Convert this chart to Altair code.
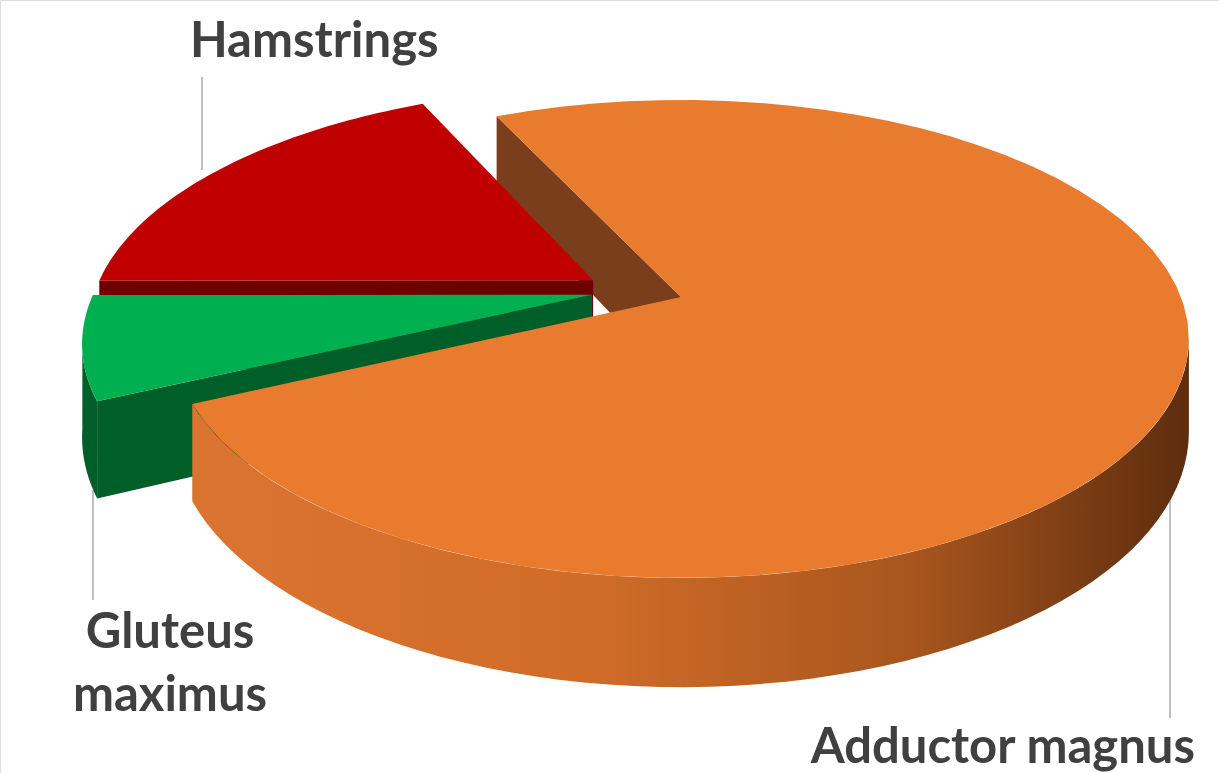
import math
import altair as alt
import pandas as pd

# ---- data ----
categories = ["Adductor magnus", "Gluteus maximus", "Hamstrings"]
shares = [75, 7, 18]

# ---- styles / layout ----
START_DEG = -25.3          # angle (clockwise from 12 o'clock) where the first slice starts
TOP_COLOR = {"Adductor magnus": "#E97B2F", "Gluteus maximus": "#00B050", "Hamstrings": "#C00000"}
WALL_COLOR = {"Adductor magnus": "#7A3E1C", "Gluteus maximus": "#005F29", "Hamstrings": "#6E0000"}
RIM_COLOR = {
    "Adductor magnus": alt.Gradient(
        gradient="linear",
        stops=[alt.GradientStop(color="#DB7430", offset=0),
               alt.GradientStop(color="#D06C28", offset=0.4),
               alt.GradientStop(color="#A8561E", offset=0.72),
               alt.GradientStop(color="#5E2D0E", offset=1)],
        x1=0, x2=1, y1=0, y2=0),
    "Gluteus maximus": "#005F29",
    "Hamstrings": "#7A0000",
}
EXPLODE = {"Adductor magnus": (0.0, 0.0), "Gluteus maximus": (-0.178, -0.01), "Hamstrings": (-0.178, -0.073)}

W, H = 1219, 773
AX, AY = 681, 297      # projected pie centre
A, B = 500, 231.6      # projected radii
K = 0.1757             # perspective factor
D = 90                 # thickness
N = 60                 # arc resolution
VIS0 = math.degrees(math.acos(-K))
VIS1 = 360 - VIS0

xs = alt.Scale(domain=[0, W], nice=False, zero=False)
ys = alt.Scale(domain=[0, H], nice=False, zero=False, reverse=True)

df = pd.DataFrame({"muscle": categories, "share": shares, "idx": list(range(len(categories)))})

eu_expr = " : ".join([f"datum.muscle == '{c}' ? {EXPLODE[c][0]}" for c in categories]) + " : 0"
ev_expr = " : ".join([f"datum.muscle == '{c}' ? {EXPLODE[c][1]}" for c in categories]) + " : 0"

base = (
    alt.Chart(df)
    .transform_joinaggregate(total="sum(share)")
    .transform_window(cum="sum(share)", sort=[alt.SortField("idx")], frame=[None, 0])
    .transform_calculate(t0=f"{START_DEG} + 360*(datum.cum - datum.share)/datum.total")
    .transform_calculate(t1=f"{START_DEG} + 360*datum.cum/datum.total")
    .transform_calculate(eu=eu_expr)
    .transform_calculate(ev=ev_expr)
)


def project(ch, extra_y="0"):
    return (
        ch.transform_calculate(s=f"1/(1 - {K}*datum.pv)")
        .transform_calculate(px=f"{AX} + {A}*datum.pu*datum.s")
        .transform_calculate(py=f"{AY} + {B}*datum.pv*datum.s + ({extra_y})*datum.s")
    )


def enc(ch):
    return ch.encode(
        x=alt.X("px:Q", scale=xs, axis=None),
        y=alt.Y("py:Q", scale=ys, axis=None),
        order=alt.Order("k:Q"),
    )


def top_layer(c):
    ch = (
        base.transform_filter(alt.datum.muscle == c)
        .transform_calculate(k=f"sequence(-1, {N + 1})")
        .transform_flatten(["k"])
        .transform_calculate(th=f"(datum.t0 + (datum.t1 - datum.t0)*max(datum.k, 0)/{N})*PI/180")
        .transform_calculate(pu="(datum.k < 0 ? 0 : sin(datum.th)) + datum.eu")
        .transform_calculate(pv="(datum.k < 0 ? 0 : -cos(datum.th)) + datum.ev")
    )
    ch = project(ch)
    return enc(ch.mark_line(filled=True, color=TOP_COLOR[c], strokeWidth=0))


def rim_layer(c):
    ch = (
        base.transform_filter(alt.datum.muscle == c)
        .transform_calculate(r0=f"max(datum.t0, {VIS0})")
        .transform_calculate(r1=f"min(datum.t1, {VIS1})")
        .transform_filter("datum.r1 > datum.r0")
        .transform_calculate(k=f"sequence(0, {2 * N + 2})")
        .transform_flatten(["k"])
        .transform_calculate(j=f"datum.k <= {N} ? datum.k : {2 * N + 1} - datum.k")
        .transform_calculate(th=f"(datum.r0 + (datum.r1 - datum.r0)*datum.j/{N})*PI/180")
        .transform_calculate(pu="sin(datum.th) + datum.eu")
        .transform_calculate(pv="-cos(datum.th) + datum.ev")
    )
    ch = project(ch, extra_y=f"datum.k > {N} ? {D} : 0")
    return enc(ch.mark_line(filled=True, color=RIM_COLOR[c], strokeWidth=0))


def wall_layer(c, edge):
    if edge == "start":
        te, vis = "datum.t0", "sin(datum.t0*PI/180) < 0"
    else:
        te, vis = "datum.t1", "sin(datum.t1*PI/180) > 0"
    ch = (
        base.transform_filter(alt.datum.muscle == c)
        .transform_filter(vis)
        .transform_calculate(te=f"{te}*PI/180")
        .transform_calculate(k="sequence(0, 4)")
        .transform_flatten(["k"])
        .transform_calculate(pu="(datum.k == 1 || datum.k == 2 ? sin(datum.te) : 0) + datum.eu")
        .transform_calculate(pv="(datum.k == 1 || datum.k == 2 ? -cos(datum.te) : 0) + datum.ev")
    )
    ch = project(ch, extra_y=f"datum.k >= 2 ? {D} : 0")
    return enc(ch.mark_line(filled=True, color=WALL_COLOR[c], strokeWidth=0))


def walls(c):
    return [wall_layer(c, "start"), wall_layer(c, "end")]


layers = []
layers += walls("Adductor magnus")
layers += [rim_layer("Hamstrings")] + walls("Hamstrings") + [top_layer("Hamstrings")]
layers += [rim_layer("Gluteus maximus")] + walls("Gluteus maximus") + [top_layer("Gluteus maximus")]
layers += [rim_layer("Adductor magnus"), top_layer("Adductor magnus")]

# ---- labels and leader lines ----
lbl = alt.Chart(pd.DataFrame({"a": [0]}))
FONT = "Lato"
LBL_COLOR = "#404040"
LEAD = "#BFBFBF"

leaders = [
    lbl.mark_rule(color=LEAD, strokeWidth=2).encode(x=alt.value(202), y=alt.value(77), y2=alt.value(170)),
    lbl.mark_rule(color=LEAD, strokeWidth=2).encode(x=alt.value(93), y=alt.value(490), y2=alt.value(600)),
    lbl.mark_rule(color=LEAD, strokeWidth=2).encode(x=alt.value(1170), y=alt.value(480), y2=alt.value(718)),
]
labels = [
    lbl.mark_text(text="Hamstrings", font=FONT, fontWeight="bold", fontSize=49, color=LBL_COLOR,
                  align="left", baseline="alphabetic").encode(x=alt.value(190), y=alt.value(57)),
    lbl.mark_text(text=["Gluteus", "maximus"], font=FONT, fontWeight="bold", fontSize=49, color=LBL_COLOR,
                  align="center", baseline="alphabetic", lineHeight=63).encode(x=alt.value(170), y=alt.value(648)),
    lbl.mark_text(text="Adductor magnus", font=FONT, fontWeight="bold", fontSize=49, color=LBL_COLOR,
                  align="right", baseline="alphabetic").encode(x=alt.value(1195), y=alt.value(763)),
]

chart = (
    alt.layer(*(leaders + layers + labels))
    .properties(width=W, height=H, padding=0, autosize=alt.AutoSizeParams(type="none"))
    .configure_view(stroke=None)
    .configure(background="white")
)

chart.save("out.html", embed_options={"renderer": "svg", "actions": False})
